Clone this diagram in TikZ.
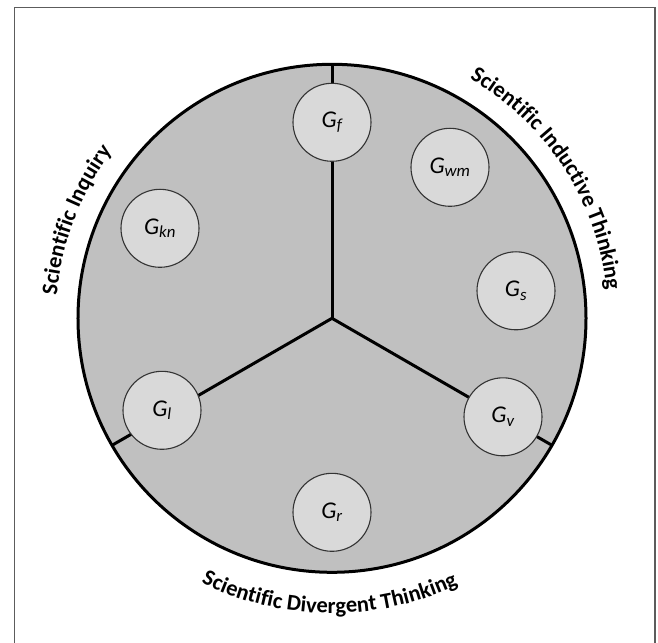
\documentclass[tikz,border=0pt]{standalone}
\usepackage{fontspec}
\setmainfont{Carlito}
\usetikzlibrary{decorations.text}
\definecolor{bigfill}{HTML}{C0C0C0}
\definecolor{smallfill}{HTML}{D9D9D9}
\definecolor{framegray}{HTML}{5C5C5C}
\definecolor{ringline}{HTML}{333333}
\begin{document}
\begin{tikzpicture}[x=1pt,y=1pt,
  gnode/.style={circle, draw=ringline, line width=1.1pt, fill=smallfill,
    minimum size=78pt, inner sep=0pt, font=\fontsize{24}{28}\selectfont\itshape},
  spoke/.style={line width=3pt},
  ring/.style={line width=3pt, fill=bigfill},
  frame/.style={draw=framegray, line width=1.6pt}
]
\useasboundingbox (-332,-323.7) rectangle (326,318.3);
\fill[white] (-332,-323.7) rectangle (326,318.3);
\draw[frame] (-317.5,-340) rectangle (323,310.8);

\coordinate (c) at (0,0);
\coordinate (e1) at (90:254);
\coordinate (e2) at (210:254);
\coordinate (e3) at (330:254);

\draw[ring] (c) circle[radius=254];
\draw[spoke] (c) -- (e1);
\draw[spoke] (c) -- (e2);
\draw[spoke] (c) -- (e3);

\node[gnode] (gf)  at (0,196)    {G\textsubscript{f}};
\node[gnode] (gwm) at (118,151)  {G\textsubscript{wm}};
\node[gnode] (gkn) at (-172,90)  {G\textsubscript{kn}};
\node[gnode] (gs)  at (184,27.5) {G\textsubscript{s}};
\node[gnode] (gl)  at (-170,-92) {G\textsubscript{l}};
\node[gnode] (gv)  at (171,-98.5) {G\textsubscript{v}};
\node[gnode] (gr)  at (0,-194)   {G\textsubscript{r}};

\path[decorate, decoration={text along path, text align=center,
  text={|\fontsize{22.5}{27}\selectfont\bfseries|Scientific Inquiry}}]
  (199:276) arc[start angle=199, end angle=119, radius=276];
\path[decorate, decoration={text along path, text align=center,
  text={|\fontsize{22.5}{27}\selectfont\bfseries|Scientific Inductive Thinking}}]
  (75:276) arc[start angle=75, end angle=-9, radius=276];
\path[decorate, decoration={text along path, text align=center,
  text={|\fontsize{22.5}{27}\selectfont\bfseries|Scientific Divergent Thinking}}]
  (225:295) arc[start angle=225, end angle=314, radius=295];
\end{tikzpicture}
\end{document}
